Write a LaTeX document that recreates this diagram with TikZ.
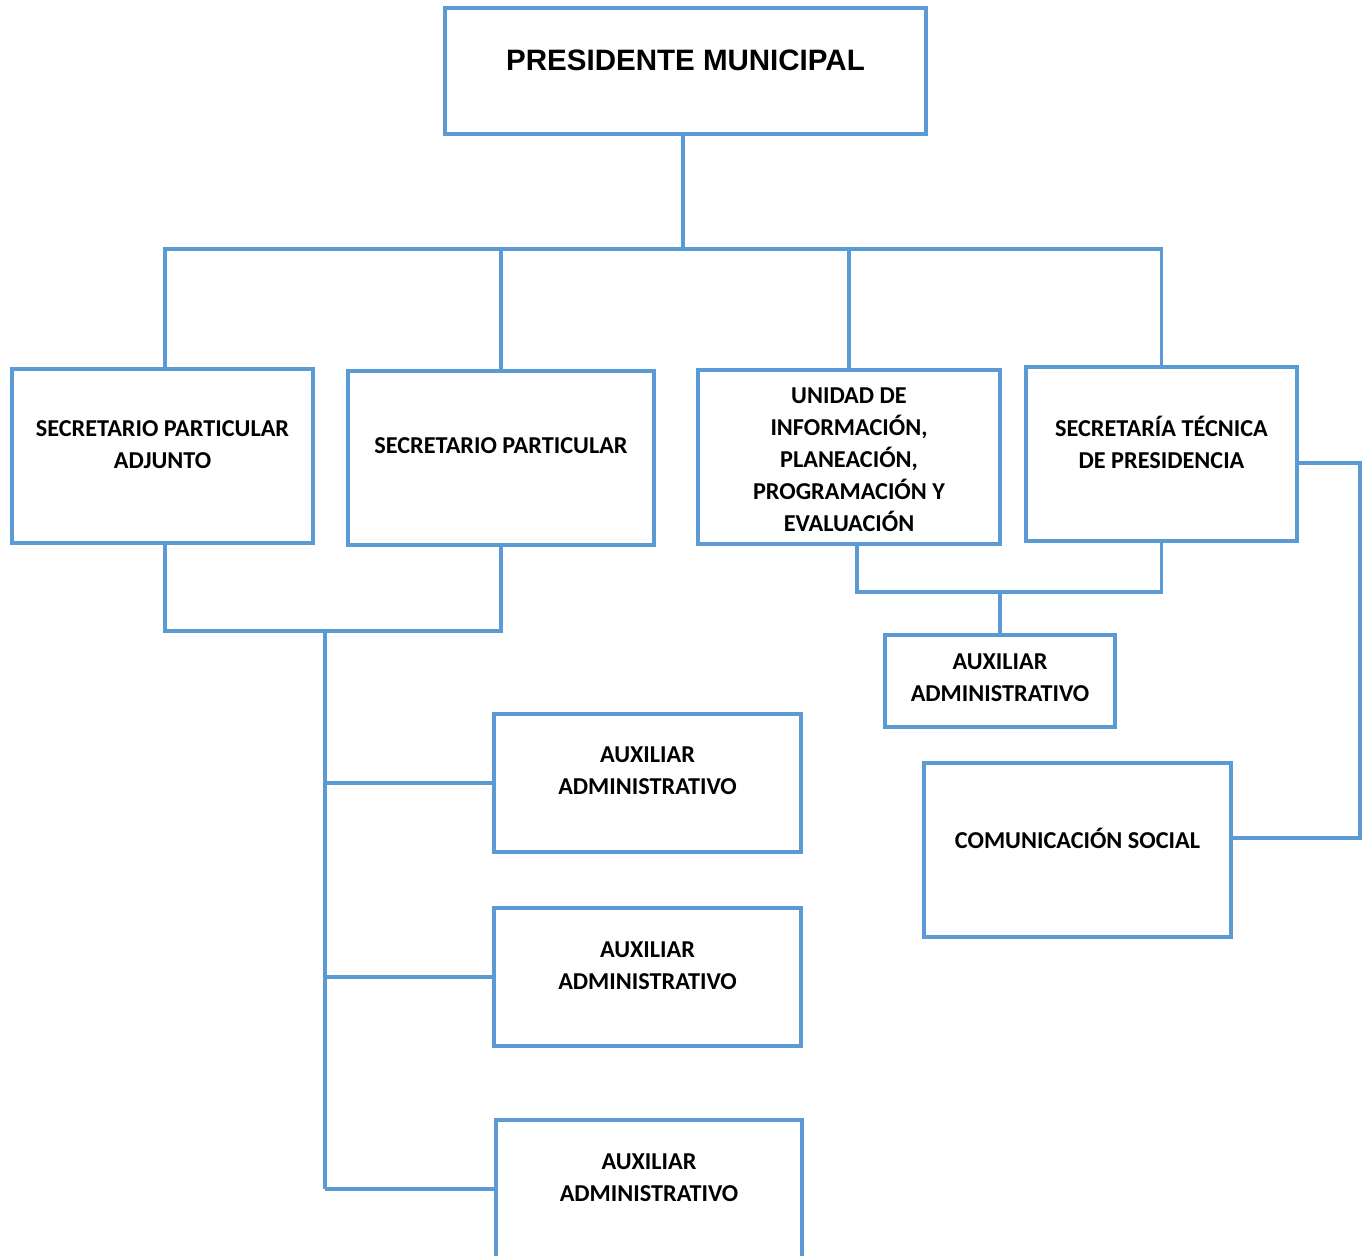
\documentclass[tikz,border=0pt]{standalone}
\usepackage{fontspec}
\setmainfont{Carlito}
\newfontfamily\headfont{Liberation Sans}
\definecolor{orgblue}{RGB}{91,155,213}
\tikzset{
  box/.style={draw=orgblue, line width=2.2pt, minimum height=3.48cm, inner sep=0pt},
  link/.style={draw=orgblue, line width=2.2pt},
  txt/.style={align=center, font=\fontsize{13.8}{18.2}\selectfont\bfseries}
}

\begin{document}
\begin{tikzpicture}
                \useasboundingbox (0,0) rectangle (27.28,-25.1);

                \node[box, minimum width=9.62cm, minimum height=2.52cm,
                    label={[yshift=0.22cm, font=\headfont\fontsize{16.8}{20}\selectfont\bfseries]center:{PRESIDENTE MUNICIPAL}}] (pm) at (13.71,-1.42) {};

                \node[box, minimum width=6.02cm, label={[txt, yshift=0.22cm]center:{SECRETARIO PARTICULAR\\ADJUNTO}}] (spa) at (3.25,-9.12) {};
                \node[box, minimum width=6.12cm, label={[txt, yshift=0.24cm]center:{SECRETARIO PARTICULAR}}] (sp) at (10.02,-9.16) {};
                \node[box, minimum width=6.04cm, label={[txt, yshift=-0.05cm]center:{UNIDAD DE\\INFORMACIÓN,\\PLANEACIÓN,\\PROGRAMACIÓN Y\\EVALUACIÓN}}] (uip) at (16.98,-9.14) {};
                \node[box, minimum width=5.42cm, label={[txt, yshift=0.23cm]center:{SECRETARÍA TÉCNICA\\DE PRESIDENCIA}}] (stp) at (23.23,-9.08) {};

                \node[box, minimum width=4.6cm, minimum height=1.84cm, label={[txt, yshift=0.07cm]center:{AUXILIAR\\ADMINISTRATIVO}}] (aux0) at (20.0,-13.62) {};
                \node[box, minimum width=6.14cm, label={[txt, yshift=0.24cm]center:{COMUNICACIÓN SOCIAL}}] (cs) at (21.55,-17.0) {};

                \node[box, minimum width=6.14cm, minimum height=2.76cm, label={[txt, yshift=0.24cm]center:{AUXILIAR\\ADMINISTRATIVO}}] (aux1) at (12.95,-15.66) {};
                \node[box, minimum width=6.14cm, minimum height=2.76cm, label={[txt, yshift=0.23cm]center:{AUXILIAR\\ADMINISTRATIVO}}] (aux2) at (12.95,-19.54) {};
                \node[box, minimum width=6.12cm, minimum height=2.76cm, label={[txt, yshift=0.22cm]center:{AUXILIAR\\ADMINISTRATIVO}}] (aux3) at (12.98,-23.78) {};

                \coordinate (bus) at (13.66,-4.98);
                \coordinate (jl) at (6.5,-12.62);
                \coordinate (jr) at (20.0,-11.84);
                \coordinate (rt) at (27.2,-9.26);
                \coordinate (csin) at ([yshift=0.24cm]cs.east);

                \draw[link] (pm.south -| bus) -- (bus);
                \draw[link] ([xshift=0.05cm]spa.north) |- (bus) -| (stp.north);
                \draw[link] (sp.north) -- (sp.north |- bus);
                \draw[link] (uip.north) -- (uip.north |- bus);

                \draw[link] ([xshift=0.05cm]spa.south) |- (jl) -| (sp.south);
                \draw[link] (jl) -- (jl |- aux3.west);
                \foreach \n in {aux1,aux2,aux3}{
                    \draw[link] (jl |- \n.west) -- (\n.west);
                }

                \draw[link] ([xshift=0.16cm]uip.south) |- (jr) -| (stp.south);
                \draw[link] (jr) -- (aux0.north);

                \draw[link] (stp.east |- rt) -- (rt) -- (rt |- csin) -- (csin);
            \end{tikzpicture}
\end{document}
